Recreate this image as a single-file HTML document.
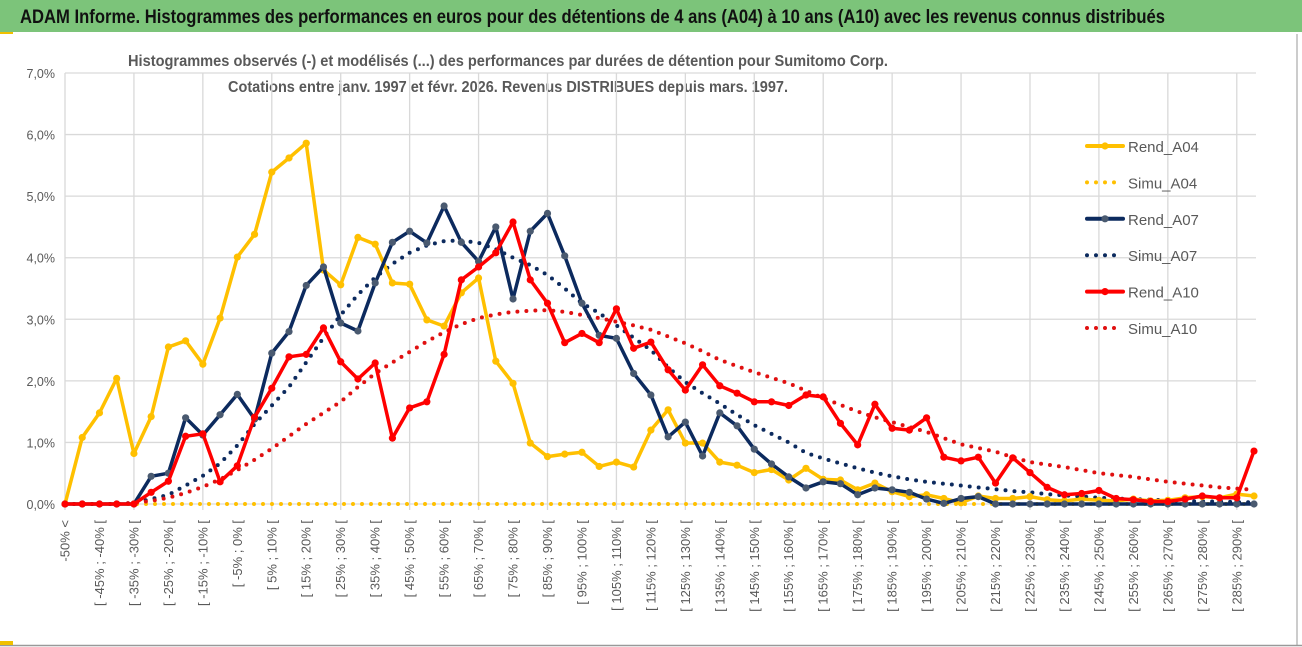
<!DOCTYPE html>
<html><head><meta charset="utf-8"><style>
html,body{margin:0;padding:0;background:#fff;}
svg{display:block;font-family:"Liberation Sans",sans-serif;}
</style></head><body>
<svg id="chart" width="1302" height="647" viewBox="0 0 1302 647">
  <rect x="0" y="0" width="1302" height="647" fill="#fff"/>
  <rect x="0" y="0" width="1302" height="32" fill="#7cc47a"/>
  <text x="20" y="23" font-size="19" font-weight="bold" fill="#111" textLength="1145" lengthAdjust="spacingAndGlyphs">ADAM Informe. Histogrammes des performances en euros pour des détentions de 4 ans (A04) à 10 ans (A10) avec les revenus connus distribués</text>
  <rect x="0" y="32" width="13" height="2" fill="#f0c000"/>
  <line x1="1297" y1="34" x2="1297" y2="645" stroke="#999" stroke-width="1"/>
  <line x1="0" y1="645.5" x2="1302" y2="645.5" stroke="#999" stroke-width="1.5"/>
  <rect x="0" y="641" width="13" height="4" fill="#f0c000"/>
  <text x="508" y="66" font-size="15.5" font-weight="bold" fill="#595959" text-anchor="middle" textLength="760" lengthAdjust="spacingAndGlyphs">Histogrammes observés (-) et modélisés (...) des performances par durées de détention pour Sumitomo Corp.</text>
  <text x="508" y="92" font-size="15.5" font-weight="bold" fill="#595959" text-anchor="middle" textLength="560" lengthAdjust="spacingAndGlyphs">Cotations entre janv. 1997 et févr. 2026. Revenus DISTRIBUES depuis mars. 1997.</text>
  <g id="grid"></g>
  <g id="yaxis"></g>
  <g id="xaxis"></g>
  <g id="series"></g>
  <g id="legend"></g>
</svg>
<script>
const yTicks = [0,1,2,3,4,5,6,7];
const yTickLabels = ["0,0%","1,0%","2,0%","3,0%","4,0%","5,0%","6,0%","7,0%"];
const categories = ["-50% <"];
for (let a = -50; a < 295; a += 5) categories.push("[ " + a + "% ; " + (a + 5) + "% [");
const rendA04 = [0,1.08,1.48,2.04,0.82,1.42,2.55,2.65,2.27,3.02,4.01,4.38,5.39,5.62,5.86,3.8,3.56,4.33,4.22,3.59,3.57,2.99,2.89,3.43,3.67,2.32,1.96,0.99,0.77,0.81,0.84,0.61,0.68,0.6,1.2,1.53,0.99,0.99,0.68,0.63,0.51,0.56,0.39,0.58,0.4,0.39,0.23,0.34,0.2,0.12,0.15,0.09,0.02,0.13,0.09,0.09,0.12,0.07,0.05,0.08,0.06,0.05,0.08,0.05,0.06,0.1,0.12,0.1,0.16,0.13];
const simuA04 = [0,0,0,0,0,0,0,0,0,0,0,0,0,0,0,0,0,0,0,0,0,0,0,0,0,0,0,0,0,0,0,0,0,0,0,0,0,0,0,0,0,0,0,0,0,0,0,0,0,0,0,0,0,0,0,0,0,0,0,0,0,0,0,0,0,0,0,0,0,0];
const rendA07 = [0,0,0,0,0,0.45,0.5,1.4,1.12,1.45,1.78,1.38,2.45,2.8,3.55,3.85,2.94,2.81,3.59,4.25,4.43,4.24,4.84,4.25,3.94,4.5,3.33,4.43,4.72,4.03,3.26,2.74,2.69,2.12,1.77,1.09,1.33,0.78,1.48,1.27,0.89,0.65,0.44,0.26,0.36,0.33,0.15,0.26,0.23,0.19,0.08,0.01,0.09,0.12,0,0,0,0,0,0,0,0,0,0,0,0,0,0,0,0];
const simuA07 = [0,0,0,0,0.02,0.08,0.15,0.3,0.46,0.66,0.95,1.3,1.6,1.9,2.3,2.7,3.07,3.4,3.68,3.9,4.08,4.2,4.27,4.28,4.24,4.14,4.0,3.88,3.72,3.5,3.26,3.1,2.9,2.7,2.5,2.22,1.98,1.8,1.63,1.45,1.28,1.14,1.0,0.83,0.74,0.66,0.58,0.51,0.45,0.4,0.36,0.33,0.3,0.27,0.24,0.21,0.19,0.16,0.14,0.12,0.1,0.09,0.08,0.07,0.06,0.05,0.04,0.04,0.03,0.03];
const rendA10 = [0,0,0,0,0,0.19,0.37,1.1,1.14,0.36,0.62,1.41,1.88,2.39,2.43,2.86,2.31,2.03,2.29,1.07,1.56,1.66,2.43,3.64,3.85,4.08,4.58,3.64,3.26,2.62,2.77,2.62,3.17,2.53,2.63,2.18,1.85,2.26,1.92,1.8,1.66,1.66,1.6,1.77,1.74,1.31,0.96,1.62,1.23,1.2,1.4,0.76,0.7,0.76,0.34,0.75,0.51,0.27,0.15,0.17,0.22,0.09,0.07,0.04,0.04,0.08,0.13,0.1,0.1,0.86];
const simuA10 = [0,0,0,0,0.02,0.05,0.1,0.18,0.28,0.4,0.55,0.72,0.9,1.1,1.3,1.48,1.66,1.9,2.12,2.3,2.47,2.64,2.79,2.92,3.02,3.08,3.12,3.14,3.15,3.12,3.07,3.02,2.96,2.9,2.83,2.72,2.61,2.48,2.34,2.24,2.14,2.05,1.96,1.84,1.72,1.61,1.5,1.41,1.33,1.25,1.17,1.07,0.97,0.91,0.85,0.76,0.68,0.64,0.6,0.55,0.5,0.47,0.44,0.4,0.36,0.33,0.3,0.27,0.25,0.23];
const seriesNames = ["Rend_A04","Simu_A04","Rend_A07","Simu_A07","Rend_A10","Simu_A10"];

const NS = "http://www.w3.org/2000/svg";
const X0 = 65, X1 = 1254, Y0 = 504, Y7 = 73;
function xPos(i){ return X0 + i * (X1 - X0) / (categories.length - 1); }
function yPos(v){ return Y0 - v * (Y0 - Y7) / 7; }
function mk(tag, attrs, parent){ const e = document.createElementNS(NS, tag); for (const k in attrs) e.setAttribute(k, attrs[k]); parent.appendChild(e); return e; }

const grid = document.getElementById('grid');
yTicks.forEach((t, k) => {
  const l = mk('line', {x1: X0, x2: 1256, y1: yPos(t), y2: yPos(t), stroke: '#d9d9d9', 'stroke-width': 1.3}, grid);
  
  
  const tx = mk('text', {x: 55, y: yPos(t) + 5, 'font-size': 12.5, fill: '#595959', 'text-anchor': 'end'}, document.getElementById('yaxis'));
  tx.textContent = yTickLabels[k];
  
  
});
for (let i = 0; i < categories.length; i += 4) {
  const l = mk('line', {x1: xPos(i), x2: xPos(i), y1: Y7, y2: Y0 + 6, stroke: '#d9d9d9', 'stroke-width': 1.3}, grid);
  
  
}
const xaxis = document.getElementById('xaxis');
for (let i = 0; i < categories.length; i += 2) {
  const x = xPos(i) + 4.5, y = 520;
  const t = mk('text', {x: x, y: y, 'font-size': 13, fill: '#595959', 'text-anchor': 'end', transform: 'rotate(-90 ' + x + ' ' + y + ')'}, xaxis);
  t.textContent = categories[i];
  
  
}

const styles = [
  {data: rendA04, color: '#ffc000', dotted: false, marker: '#ffc000'},
  {data: simuA04, color: '#ffc000', dotted: true},
  {data: rendA07, color: '#0c2a5e', dotted: false, marker: '#4a5a70'},
  {data: simuA07, color: '#0c2a5e', dotted: true},
  {data: rendA10, color: '#ff0000', dotted: false, marker: '#ff0000'},
  {data: simuA10, color: '#e01010', dotted: true}
];
const sg = document.getElementById('series');
const order = [1, 3, 5, 0, 2, 4];
order.forEach(s => {
  const st = styles[s];
  const g = mk('g', {}, sg);
  
  
  const pts = st.data.map((v, i) => xPos(i).toFixed(1) + ',' + yPos(v).toFixed(1)).join(' ');
  const attrs = {points: pts, fill: 'none', stroke: st.color, 'stroke-linejoin': 'round', 'stroke-linecap': 'round'};
  if (st.dotted) { attrs['stroke-width'] = 4; attrs['stroke-dasharray'] = '0 9'; }
  else attrs['stroke-width'] = 3.5;
  const pl = mk('polyline', attrs, g);
  
  
  if (!st.dotted) {
    st.data.forEach((v, i) => {
      const c = mk('circle', {cx: xPos(i), cy: yPos(v), r: 3.6, fill: st.marker}, g);
      
      
    });
  }
});

const lg = document.getElementById('legend');
seriesNames.forEach((n, k) => {
  const st = styles[k];
  const y = 146 + k * 36.4;
  const g = mk('g', {}, lg);
  
  
  const attrs = {x1: 1087, x2: 1123, y1: y, y2: y, stroke: st.color, 'stroke-linecap': 'round'};
  if (st.dotted) { attrs['stroke-width'] = 4; attrs['stroke-dasharray'] = '0 9'; attrs.x2 = k === 5 ? 1123 : 1117; }
  else attrs['stroke-width'] = 4;
  const l = mk('line', attrs, g);
  
  
  if (!st.dotted) {
    const c = mk('circle', {cx: 1105, cy: y, r: 3.6, fill: st.marker}, g);
    
    
  }
  const t = mk('text', {x: 1128, y: y + 6, 'font-size': 15, fill: '#595959'}, g);
  t.textContent = n;
  
  
});
</script>
</body></html>
